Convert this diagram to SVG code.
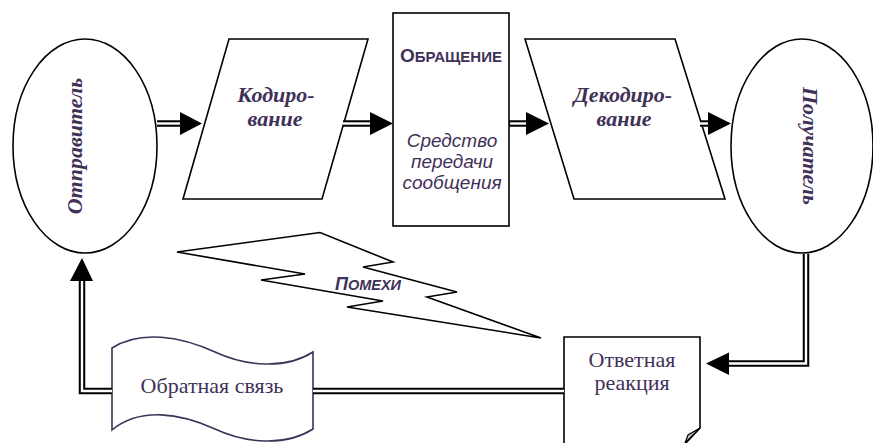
<svg xmlns="http://www.w3.org/2000/svg" width="873" height="443" viewBox="0 0 873 443">
<style>
.sh{fill:#fff;stroke:#000;stroke-width:1.6}
.bi{font-family:"Liberation Serif",serif;font-weight:bold;font-style:italic;font-size:22px;fill:#3f3157}
.rg{font-family:"Liberation Serif",serif;font-size:22px;fill:#3f3157}
.sc{font-family:"Liberation Sans",Arial,sans-serif;font-weight:bold;fill:#3f3157}
.it{font-family:"Liberation Sans",Arial,sans-serif;font-style:italic;font-size:19px;fill:#3f3157}
.dl{fill:none;stroke:#000;stroke-width:6.5}
.dw{fill:none;stroke:#fff;stroke-width:2.4}
.ah{fill:#000;stroke:none}
</style>
<rect width="873" height="443" fill="#fff"/>
<g id="sender">
<ellipse class="sh" cx="85" cy="146" rx="72" ry="107"/>
<text class="bi" text-anchor="middle" transform="translate(82,146) rotate(-90)">Отправитель</text>
</g>
<g id="encoding">
<polygon class="sh" points="229,39 368,39 322,199 183,199"/>
<text class="bi" text-anchor="middle" x="276" y="102">Кодиро-</text>
<text class="bi" text-anchor="middle" x="275" y="126">вание</text>
</g>
<g id="channel">
<rect class="sh" x="393" y="13" width="116" height="213"/>
<text class="sc" text-anchor="middle" x="451" y="62" font-size="15"><tspan font-size="19">О</tspan>БРАЩЕНИЕ</text>
<text class="it" text-anchor="middle" x="452" y="147">Средство</text>
<text class="it" text-anchor="middle" x="452" y="168">передачи</text>
<text class="it" text-anchor="middle" x="452" y="189">сообщения</text>
</g>
<g id="decoding">
<polygon class="sh" points="525,39 675,39 725,199 574,199"/>
<text class="bi" text-anchor="middle" x="623" y="102">Декодиро-</text>
<text class="bi" text-anchor="middle" x="624" y="126">вание</text>
</g>
<g id="receiver">
<ellipse class="sh" cx="802" cy="146" rx="71" ry="107"/>
<text class="bi" text-anchor="middle" transform="translate(803,146) rotate(90)">Получатель</text>
</g>
<g id="noise">
<polygon class="sh" points="177,252 320,232.5 393,262 363,267 457,292 427,297 541,338 347,307 383,301 261,280 305,274"/>
<text class="sc" font-style="italic" text-anchor="middle" x="368" y="290" font-size="14.5"><tspan font-size="18">П</tspan>ОМЕХИ</text>
</g>
<g id="response">
<path class="sh" d="M564,444 V337 H700 V428 L685,444"/>
<polygon points="700,428 688,435 685,443" fill="#c8c8c8" stroke="#000" stroke-width="1.2"/>
<text class="rg" text-anchor="middle" x="632" y="367" font-size="21.5">Ответная</text>
<text class="rg" text-anchor="middle" x="632" y="390" font-size="21.5">реакция</text>
</g>
<g id="feedback">
<path d="M112,348 C140,330 180,336 215,352 C245,366 285,370 313,352 V429 C285,447 245,443 215,429 C180,413 140,407 112,430 Z" fill="#fff" stroke="#3f3157" stroke-width="1.6"/>
<text class="rg" text-anchor="middle" x="212" y="393" font-size="23.5">Обратная связь</text>
</g>
<g id="connectors">
<path class="dl" d="M157,123.5 H181"/><path class="dw" d="M157,123.5 H182"/>
<polygon class="ah" points="180,112 202,123.5 180,135"/>
<path class="dl" d="M343,123.5 H371"/><path class="dw" d="M343,123.5 H372"/>
<polygon class="ah" points="370,112 393,123.5 370,135"/>
<path class="dl" d="M509,123.5 H527"/><path class="dw" d="M510,123.5 H528"/>
<polygon class="ah" points="526,112 549,123.5 526,135"/>
<path class="dl" d="M700,123.5 H709"/><path class="dw" d="M700,123.5 H710"/>
<polygon class="ah" points="708,112 731,123.5 708,135"/>
<path class="dl" d="M806,254 V363.5 H728"/><path class="dw" d="M806,254 V363.5 H727"/>
<polygon class="ah" points="729,352.5 706,363.5 729,375"/>
<path class="dl" d="M112,391 H82 V281"/><path class="dw" d="M112,391 H82 V280"/>
<polygon class="ah" points="70,281 82,258 93,281"/>
<path class="dl" d="M313,391 H564"/><path class="dw" d="M313,391 H564"/>
</g>
</svg>
